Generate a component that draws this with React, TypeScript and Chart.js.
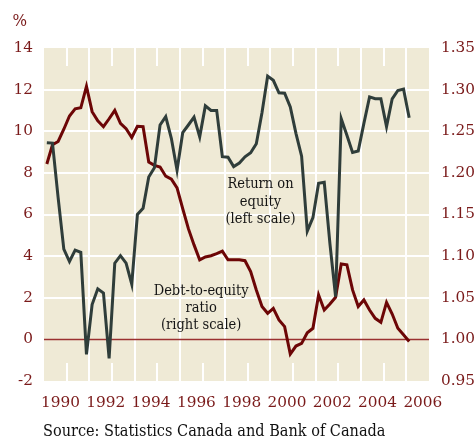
import React, { useEffect, useRef } from "react";
import { Chart, registerables } from "chart.js";

Chart.register(...registerables);

// ---- Data (quarterly, 1990Q1 .. 2006Q1) ----
const startYear = 1990;
const quarterCount = 65;
const quarterLabels: string[] = Array.from({ length: quarterCount }, (_, i) =>
  `${startYear + Math.floor(i / 4)}Q${(i % 4) + 1}`
);

// Return on equity, % (left scale)
const returnOnEquity: number[] = [
  9.45, 9.43, 6.8, 4.34, 3.74, 4.29, 4.18, -0.72,
  1.67, 2.43, 2.23, -0.91, 3.66, 4.02, 3.66, 2.65,
  6.0, 6.3, 7.8, 8.25, 10.3, 10.7, 9.65, 8.13,
  9.93, 10.3, 10.68, 9.73, 11.22, 11.0, 11.0, 8.78,
  8.75, 8.3, 8.47, 8.77, 8.97, 9.4, 10.89, 12.65,
  12.45, 11.85, 11.83, 11.17, 9.9, 8.8, 5.2, 5.85,
  7.5, 7.55, 4.6, 2.05, 10.6, 9.81, 8.98, 9.05,
  10.38, 11.65, 11.56, 11.56, 10.22, 11.56, 11.96, 12.03,
  10.65,
];

// Debt-to-equity ratio (right scale)
const debtToEquity: number[] = [
  1.2107, 1.2337, 1.2377, 1.2524, 1.2683, 1.277, 1.2782, 1.304,
  1.2735, 1.2625, 1.2555, 1.265, 1.275, 1.2595, 1.253, 1.2425,
  1.256, 1.2555, 1.213, 1.209, 1.207, 1.196, 1.1925, 1.182,
  1.157, 1.133, 1.1135, 1.0955, 1.099, 1.1005, 1.103, 1.106,
  1.0955, 1.0955, 1.0955, 1.0945, 1.0815, 1.0594, 1.0394, 1.0313,
  1.0373, 1.0233, 1.0153, 0.9823, 0.992, 0.9952, 1.008, 1.0133,
  1.0534, 1.0353, 1.0426, 1.0506, 1.0905, 1.0896, 1.0594, 1.0394,
  1.0474, 1.0353, 1.0253, 1.0205, 1.0445, 1.0305, 1.0133, 1.0055,
  0.9975,
];

// Axis ranges / ticks
const xMin = 1990;
const xMax = 2007;
const leftMin = -2;
const leftMax = 14;
const leftStep = 2;
const rightMin = 0.95;
const rightMax = 1.35;
const rightStep = 0.05;

const roeLabel = ["Return on", "equity", "(left scale)"];
const debtLabel = ["Debt-to-equity", "ratio", "(right scale)"];
const sourceText = "Source: Statistics Canada and Bank of Canada";
const unitText = "%";

// ---- Styles ----
const FONT = "'DejaVu Serif', serif";
const MAROON = "#7a1a1a";
const DEBT_COLOR = "#6c0606";
const ROE_COLOR = "#2f3d3a";
const BG = "#efead6";

function quarterToX(label: string): number {
  const y = parseInt(label.slice(0, 4), 10);
  const q = parseInt(label.slice(5), 10);
  return y + (q - 0.5) / 4;
}

function condensedText(ctx: any, text: string, x: number, y: number, sx: number) {
  ctx.save();
  ctx.translate(x, y);
  ctx.scale(sx, 1);
  ctx.fillText(text, 0, 0);
  ctx.restore();
}

const chartDecor = {
  id: "chartDecor",
  beforeDraw(chart: any) {
    const { ctx, chartArea } = chart;
    ctx.save();
    ctx.fillStyle = BG;
    ctx.fillRect(chartArea.left, chartArea.top, chartArea.right - chartArea.left, chartArea.bottom - chartArea.top);
    ctx.restore();
  },
  beforeDatasetsDraw(chart: any) {
    const { ctx, chartArea } = chart;
    const xs = chart.scales.x;
    const yl = chart.scales.y;
    ctx.save();
    // short ticks at odd years
    ctx.strokeStyle = "#ffffff";
    ctx.lineWidth = 2;
    for (let yr = xMin + 1; yr < xMax; yr += 2) {
      const px = Math.round(xs.getPixelForValue(yr));
      ctx.beginPath();
      ctx.moveTo(px, chartArea.top);
      ctx.lineTo(px, chartArea.top + 18);
      ctx.moveTo(px, chartArea.bottom - 18);
      ctx.lineTo(px, chartArea.bottom);
      ctx.stroke();
    }
    // zero line
    const y0 = yl.getPixelForValue(0);
    ctx.strokeStyle = "#9a3030";
    ctx.lineWidth = 1.5;
    ctx.beginPath();
    ctx.moveTo(chartArea.left, y0);
    ctx.lineTo(chartArea.right, y0);
    ctx.stroke();
    ctx.restore();
  },
  afterDatasetsDraw(chart: any) {
    const { ctx } = chart;
    const xs = chart.scales.x;
    const yl = chart.scales.y;
    ctx.save();
    ctx.fillStyle = "#151515";
    ctx.font = `14.5px ${FONT}`;
    ctx.textAlign = "center";
    ctx.textBaseline = "alphabetic";
    const rx = xs.getPixelForValue(1999.56);
    const ry = yl.getPixelForValue(7.28);
    roeLabel.forEach((t, i) => condensedText(ctx, t, rx, ry + i * 17.8, 0.9));
    const dx = xs.getPixelForValue(1996.94);
    const dy = yl.getPixelForValue(2.13);
    debtLabel.forEach((t, i) => condensedText(ctx, t, dx, dy + i * 17.2, 0.9));
    ctx.restore();
  },
  afterDraw(chart: any) {
    const { ctx } = chart;
    ctx.save();
    ctx.fillStyle = MAROON;
    ctx.font = `17px ${FONT}`;
    ctx.textAlign = "left";
    ctx.textBaseline = "alphabetic";
    condensedText(ctx, unitText, 12.5, 26, 0.9);
    ctx.fillStyle = "#111111";
    ctx.font = `16px ${FONT}`;
    condensedText(ctx, sourceText, 43, 435.5, 0.906);
    ctx.restore();
  },
};

export default function App() {
  const canvasRef = useRef<HTMLCanvasElement | null>(null);

  useEffect(() => {
    if (!canvasRef.current) return;
    const xs = quarterLabels.map(quarterToX);
    const chart = new Chart(canvasRef.current, {
      type: "line",
      data: {
        datasets: [
          {
            label: "Return on equity",
            data: returnOnEquity.map((v, i) => ({ x: xs[i], y: v })),
            borderColor: ROE_COLOR,
            borderWidth: 3,
            pointRadius: 0,
            tension: 0,
            yAxisID: "y",
            borderJoinStyle: "miter",
          },
          {
            label: "Debt-to-equity ratio",
            data: debtToEquity.map((v, i) => ({ x: xs[i], y: v })),
            borderColor: DEBT_COLOR,
            borderWidth: 3,
            pointRadius: 0,
            tension: 0,
            yAxisID: "y1",
            borderJoinStyle: "miter",
          },
        ],
      },
      options: {
        responsive: false,
        animation: false,
        events: [],
        layout: { padding: { top: 48, left: 0, right: 0, bottom: 0 } },
        plugins: {
          legend: { display: false },
          tooltip: { enabled: false },
          title: { display: false },
        },
        scales: {
          x: {
            type: "linear",
            min: xMin,
            max: xMax,
            afterBuildTicks: (scale: any) => {
              const t: any[] = [];
              for (let v = xMin; v <= xMax; v++) t.push({ value: v });
              scale.ticks = t;
            },
            afterFit: (scale: any) => {
              scale.height = 57;
            },
            border: { display: false },
            grid: {
              drawTicks: false,
              lineWidth: 2,
              color: (c: any) => {
                const v = c.tick ? c.tick.value : 0;
                if (v === xMin || v === xMax) return "rgba(0,0,0,0)";
                return v % 2 === 0 ? "#ffffff" : "rgba(0,0,0,0)";
              },
            },
            ticks: {
              autoSkip: false,
              maxRotation: 0,
              padding: 13,
              labelOffset: 16.5,
              color: MAROON,
              font: { family: FONT, size: 15.3 },
              callback: (v: any) => {
                const n = Number(v);
                return n % 2 === 0 && n < xMax ? String(n) : "";
              },
            },
          },
          y: {
            type: "linear",
            position: "left",
            min: leftMin,
            max: leftMax,
            afterFit: (scale: any) => {
              scale.width = 44;
            },
            border: { display: false },
            grid: {
              drawTicks: false,
              lineWidth: 2,
              color: (c: any) => {
                const v = c.tick ? c.tick.value : 0;
                if (v === leftMin || v === leftMax || v === 0) return "rgba(0,0,0,0)";
                return "#ffffff";
              },
            },
            ticks: {
              stepSize: leftStep,
              padding: 11,
              color: MAROON,
              font: { family: FONT, size: 15.3 },
            },
          },
          y1: {
            type: "linear",
            position: "right",
            min: rightMin,
            max: rightMax,
            afterFit: (scale: any) => {
              scale.width = 47;
            },
            border: { display: false },
            grid: { display: false, drawTicks: false },
            ticks: {
              stepSize: rightStep,
              padding: 12,
              color: MAROON,
              font: { family: FONT, size: 15.3 },
              callback: (v: any) => Number(v).toFixed(2),
            },
          },
        },
      },
      plugins: [chartDecor],
    });
    return () => chart.destroy();
  }, []);

  return (
    <div style={{ position: "absolute", left: 0, top: 0, width: 476, height: 438, background: "#ffffff" }}>
      <canvas ref={canvasRef} width={476} height={438} />
    </div>
  );
}
